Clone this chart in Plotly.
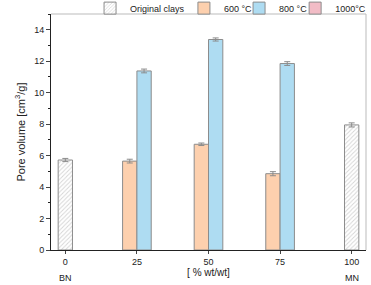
import plotly.graph_objects as go

orig_x = [0, 100]
orig_y = [5.72, 7.95]
orig_err = [0.1, 0.13]

mix_x = [25, 50, 75]
y600 = [5.65, 6.72, 4.85]
e600 = [0.12, 0.08, 0.13]
y800 = [11.38, 13.38, 11.85]
e800 = [0.12, 0.1, 0.12]
y1000 = [None, None, None]

x_ticks = [0, 25, 50, 75, 100]
end_labels = ["BN", "MN"]

line_col = "#8c8c8c"

fig = go.Figure()
fig.add_trace(go.Bar(
    x=orig_x, y=orig_y, width=5, name="Original clays", legend="legend",
    marker=dict(color="white", line=dict(color=line_col, width=1),
                pattern=dict(shape="/", fgcolor="#aaaaaa", bgcolor="white", size=3, solidity=0.3)),
    error_y=dict(array=orig_err, color=line_col, thickness=1, width=3),
))
fig.add_trace(go.Bar(
    x=[v - 2.5 for v in mix_x], y=y600, width=5, name="600 °C", legend="legend2",
    marker=dict(color="#fdd0ae", line=dict(color=line_col, width=1)),
    error_y=dict(array=e600, color=line_col, thickness=1, width=3),
))
fig.add_trace(go.Bar(
    x=[v + 2.5 for v in mix_x], y=y800, width=5, name="800 °C", legend="legend3",
    marker=dict(color="#aedcf2", line=dict(color=line_col, width=1)),
    error_y=dict(array=e800, color=line_col, thickness=1, width=3),
))
fig.add_trace(go.Bar(
    x=mix_x, y=y1000, width=5, name="1000°C", legend="legend4",
    marker=dict(color="#f2bcc6", line=dict(color=line_col, width=1)),
))

def leg(xpos):
    return dict(orientation="h", x=xpos, xanchor="left", y=1.025, yanchor="middle",
                font=dict(size=9), itemwidth=30, tracegroupgap=0,
                bgcolor="rgba(0,0,0,0)")

fig.update_layout(
    width=371, height=285,
    margin=dict(l=51, r=5, t=14, b=35, autoexpand=False),
    paper_bgcolor="white", plot_bgcolor="white",
    font=dict(family="Liberation Sans, Arial, sans-serif", size=9, color="#222"),
    barmode="overlay",
    showlegend=True,
    legend=leg(0.124),
    legend2=leg(0.422),
    legend3=leg(0.597),
    legend4=leg(0.775),
    xaxis=dict(range=[-5, 105], tickvals=x_ticks, ticktext=[str(v) for v in x_ticks],
               showline=True, linecolor="#222", linewidth=1, ticks="outside", ticklen=3,
               showgrid=False, zeroline=False,
               title=dict(text="[ % wt/wt]", standoff=0, font=dict(size=10))),
    yaxis=dict(range=[0, 15], dtick=2, showline=True, linecolor="#222", linewidth=1,
               ticks="outside", ticklen=4, showgrid=False, zeroline=False,
               minor=dict(ticks="outside", ticklen=2, dtick=1, tickcolor="#222"),
               title=dict(text="Pore volume [cm<sup>3</sup>/g]", standoff=6, font=dict(size=11))),
    shapes=[dict(type="line", xref="paper", yref="paper", x0=0, x1=1, y0=1, y1=1,
                 line=dict(color="#bbbbbb", width=1)),
            dict(type="line", xref="paper", yref="paper", x0=1, x1=1, y0=0, y1=1,
                 line=dict(color="#bbbbbb", width=1))],
)
for xv, lab in zip(orig_x, end_labels):
    fig.add_annotation(x=xv, y=0, xref="x", yref="paper", yshift=-21, yanchor="top",
                       text=lab, showarrow=False, font=dict(size=9))

fig.write_html("out.html", config={"displayModeBar": False},
               post_script="document.body.style.margin='0';document.body.style.overflow='hidden';")
